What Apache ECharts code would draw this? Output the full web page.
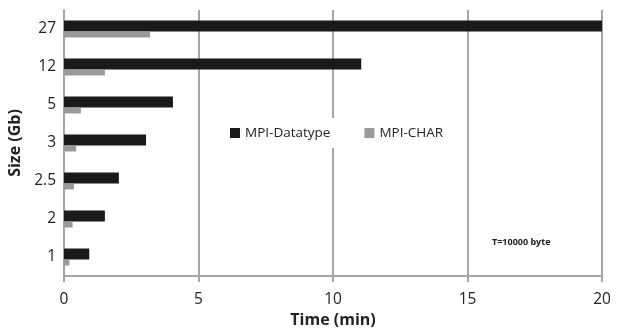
<!DOCTYPE html>
<html><head><meta charset="utf-8">
<script src="https://cdn.jsdelivr.net/npm/echarts@6/dist/echarts.min.js"></script>
<style>html,body{margin:0;padding:0;background:#fff}#c{width:617px;height:331px}</style>
</head><body><div id="c"></div>
<script>
const categories = ['1', '2', '2.5', '3', '5', '12', '27'];
const datatype = [0.94, 1.52, 2.04, 3.05, 4.05, 11.05, 21];
const mpichar = [0.2, 0.32, 0.37, 0.45, 0.63, 1.52, 3.2];
const xTicks = [0, 5, 10, 15, 20];

const chart = echarts.init(document.getElementById('c'));
chart.setOption({
  animation: false,
  textStyle: {fontFamily: 'Open Sans'},
  grid: {left: 64, right: 15, top: 10, bottom: 55, containLabel: false, outerBoundsMode: 'none'},
  legend: {
    data: ['MPI-Datatype', 'MPI-CHAR'],
    left: 224, top: 118, icon: 'rect', itemWidth: 10, itemHeight: 10, itemGap: 34,
    backgroundColor: '#fff', padding: [8, 6, 8, 6],
    textStyle: {fontFamily: 'Open Sans', fontSize: 13.5, color: '#222'}
  },
  xAxis: {
    type: 'value', min: xTicks[0], max: xTicks[xTicks.length - 1], interval: 5,
    name: 'Time (min)', nameLocation: 'middle', nameGap: 36,
    nameTextStyle: {fontFamily: 'Open Sans', fontWeight: 'bold', fontSize: 16, color: '#222'},
    axisLine: {show: true, lineStyle: {color: '#a6a6a6', width: 2}},
    axisTick: {show: true, length: 6, lineStyle: {color: '#a6a6a6', width: 2}},
    axisLabel: {fontFamily: 'Open Sans', fontSize: 15.5, color: '#222', margin: 16},
    splitLine: {show: true, lineStyle: {color: '#a6a6a6', width: 2}}
  },
  yAxis: {
    type: 'category', data: categories,
    name: 'Size (Gb)', nameLocation: 'middle', nameGap: 41, nameRotate: 90,
    nameTextStyle: {fontFamily: 'Open Sans', fontWeight: 'bold', fontSize: 16, color: '#222'},
    axisLine: {show: true, lineStyle: {color: '#a6a6a6', width: 2}},
    axisTick: {show: false},
    axisLabel: {fontFamily: 'Open Sans', fontSize: 15.5, color: '#222', margin: 8}
  },
  graphic: [{
    type: 'text', left: 492, top: 238,
    style: {text: 'T=10000 byte', fontFamily: 'Open Sans', fontWeight: 'bold', fontSize: 9, fill: '#222'}
  }],
  series: [
    {name: 'MPI-Datatype', type: 'bar', data: datatype, barWidth: 11, barGap: '0%',
     itemStyle: {color: '#1a1a1a'}, clip: true},
    {name: 'MPI-CHAR', type: 'bar', data: mpichar, barWidth: 6, barGap: '0%',
     itemStyle: {color: '#9a9a9a'}, clip: true}
  ]
});
</script></body></html>
